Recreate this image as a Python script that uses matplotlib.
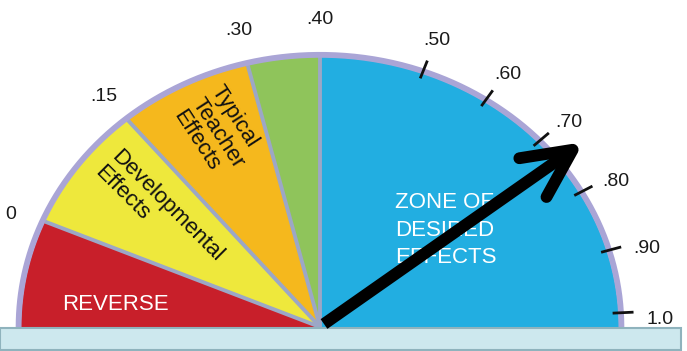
import numpy as np
import matplotlib
matplotlib.use("Agg")
import matplotlib.pyplot as plt
from matplotlib.patches import Polygon, Rectangle

# ---- data ----
zone_bounds = [-0.2, 0.0, 0.15, 0.30, 0.40, 1.02]
zone_colors = ['#c81f2a', '#eee83c', '#f5b81d', '#8fc45b', '#22aee1']
tick_values = [0.0, 0.15, 0.30, 0.40, 0.50, 0.60, 0.70, 0.80, 0.90, 1.0]
tick_labels = ['0', '.15', '.30', '.40', '.50', '.60', '.70', '.80', '.90', '1.0']
tick_marks = [0.50, 0.60, 0.70, 0.80, 0.90, 1.0]
arrow_value = 0.74

# gauge scale (value -> angle in degrees), non-linear as in the original dial
scale_v = [-0.2, 0.0, 0.15, 0.30, 0.40, 0.50, 1.0, 1.02]
scale_deg = [180, 157, 130, 104, 90, 70, 3, 0]

plt.rcParams['font.family'] = ['Liberation Sans', 'DejaVu Sans']

W, H = 687, 351
fig = plt.figure(figsize=(W / 100, H / 100), dpi=100)
ax = fig.add_axes([0, 0, 1, 1])
ax.set_xlim(0, W)
ax.set_ylim(0, H)
ax.axis('off')

cx, cy = 320, 24
rx, ry = 299, 270


def ang(v):
    return np.deg2rad(np.interp(v, scale_v, scale_deg))


def pt(v, r=1.0):
    a = ang(v)
    return cx + r * rx * np.cos(a), cy + r * ry * np.sin(a)


# sectors
for i, col in enumerate(zone_colors):
    vs = np.linspace(zone_bounds[i], zone_bounds[i + 1], 120)
    xs, ys = pt(vs)
    verts = np.column_stack([np.r_[cx, xs], np.r_[cy, ys]])
    ax.add_patch(Polygon(verts, closed=True, facecolor=col, edgecolor='none', zorder=2))

# separators
for b in zone_bounds[1:-1]:
    x1, y1 = pt(b, 1.0)
    ax.plot([cx, x1], [cy, y1], color='#9ca7c6', lw=2.8, zorder=3, solid_capstyle='butt')

# rim
vs = np.linspace(zone_bounds[0], zone_bounds[-1], 400)
xs, ys = pt(vs, 1.008)
ax.plot(xs, ys, color='#aaa5d6', lw=4.2, zorder=3, solid_capstyle='butt')

# tick marks
for t in tick_marks:
    x0, y0 = pt(t, 0.98)
    x1, y1 = pt(t, 1.05)
    ax.plot([x0, x1], [y0, y1], color='#111111', lw=2.0, zorder=4, solid_capstyle='butt')

# tick labels
for t, lab in zip(tick_values, tick_labels):
    a = ang(t)
    c, s = np.cos(a), np.sin(a)
    x = cx + (rx + (42 if c > 0 else 37)) * c
    y = cy + (ry + 38) * s - 9 * abs(c)
    ax.text(x, y, lab, fontsize=14, color='#1a1a1a', ha='center', va='center', zorder=5)

# base bar
ax.add_patch(Rectangle((0, 1), 681, 22, facecolor='#cde8ee', edgecolor='#8fb3bd', lw=1.5, zorder=4))

# zone texts
ax.text(115, 46, 'REVERSE', fontsize=16, color='white', ha='center', va='center', zorder=5)
ax.text(159, 137, 'Developmental\nEffects', fontsize=16, color='#111111', rotation=-45,
        ha='center', va='center', multialignment='left', linespacing=1.1, zorder=5)
ax.text(218, 218, 'Typical\nTeacher\nEffects', fontsize=16, color='#111111', rotation=-57,
        ha='center', va='center', multialignment='left', linespacing=1.1, zorder=5)
ax.text(395, 121, 'ZONE OF\nDESIRED\nEFFECTS', fontsize=16, color='white', ha='left',
        va='center', linespacing=1.42, zorder=5)

# arrow
tx, ty = pt(arrow_value, 1.07)
sx, sy = cx + 4, cy + 3
back = np.arctan2(sy - ty, sx - tx)
arm = 54
spread = np.deg2rad(26)
a1 = (tx + arm * np.cos(back - spread), ty + arm * np.sin(back - spread))
a2 = (tx + arm * np.cos(back + spread), ty + arm * np.sin(back + spread))
ax.plot([sx, tx], [sy, ty], color='black', lw=8.5, solid_capstyle='butt', zorder=6)
ax.plot([a1[0], tx, a2[0]], [a1[1], ty, a2[1]], color='black', lw=8.5,
        solid_capstyle='round', solid_joinstyle='round', zorder=6)

fig.savefig('out.png', dpi=100)
